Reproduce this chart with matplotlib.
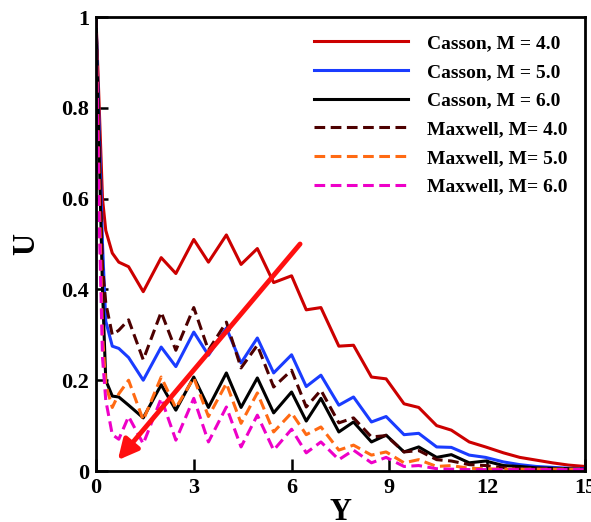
import matplotlib
matplotlib.use('Agg')
import matplotlib.pyplot as plt

# shared Y positions (peaks near integers, valleys near x.45)
y_pos = [0, 0.1, 0.2, 0.3, 0.5, 0.7, 1.0, 1.45, 2.0, 2.45, 3.0, 3.45, 4.0, 4.45,
         4.95, 5.45, 6.0, 6.45, 6.9, 7.45, 7.9, 8.45, 8.9, 9.45, 9.9, 10.45,
         10.9, 11.45, 11.95, 12.5, 13.0, 13.5, 14.0, 14.5, 15.0]

casson_m4 = [1.0, 0.80, 0.60, 0.53, 0.48, 0.46, 0.45, 0.395, 0.47, 0.435, 0.51, 0.46,
             0.52, 0.455, 0.49, 0.415, 0.43, 0.355, 0.36, 0.275, 0.277, 0.207, 0.203,
             0.148, 0.14, 0.10, 0.09, 0.064, 0.053, 0.04, 0.03, 0.024, 0.018, 0.013, 0.01]
casson_m5 = [1.0, 0.75, 0.50, 0.33, 0.275, 0.27, 0.25, 0.20, 0.273, 0.23, 0.306, 0.255,
             0.315, 0.238, 0.293, 0.216, 0.256, 0.186, 0.211, 0.145, 0.163, 0.108, 0.12,
             0.08, 0.083, 0.053, 0.052, 0.035, 0.03, 0.02, 0.014, 0.01, 0.008, 0.006, 0.005]
casson_m6 = [1.0, 0.70, 0.40, 0.20, 0.165, 0.163, 0.145, 0.117, 0.19, 0.134, 0.207, 0.14,
             0.216, 0.14, 0.205, 0.128, 0.174, 0.11, 0.16, 0.086, 0.108, 0.064, 0.079,
             0.042, 0.053, 0.03, 0.036, 0.018, 0.022, 0.012, 0.01, 0.007, 0.006, 0.005, 0.004]
maxwell_m4 = [1.0, 0.70, 0.45, 0.37, 0.30, 0.31, 0.333, 0.245, 0.35, 0.266, 0.36, 0.266,
              0.328, 0.227, 0.277, 0.185, 0.222, 0.141, 0.178, 0.106, 0.117, 0.075, 0.078,
              0.042, 0.045, 0.025, 0.022, 0.014, 0.012, 0.007, 0.005, 0.004, 0.003, 0.003, 0.003]
maxwell_m5 = [1.0, 0.60, 0.30, 0.19, 0.14, 0.17, 0.20, 0.112, 0.207, 0.139, 0.205, 0.12,
              0.193, 0.105, 0.172, 0.086, 0.128, 0.08, 0.097, 0.046, 0.057, 0.035, 0.042,
              0.018, 0.025, 0.01, 0.012, 0.006, 0.005, 0.004, 0.004, 0.004, 0.004, 0.004, 0.004]
maxwell_m6 = [1.0, 0.55, 0.25, 0.156, 0.08, 0.07, 0.12, 0.06, 0.16, 0.068, 0.16, 0.064,
              0.141, 0.053, 0.123, 0.046, 0.092, 0.04, 0.064, 0.025, 0.046, 0.018, 0.03,
              0.01, 0.012, 0.005, 0.004, 0.003, 0.003, 0.003, 0.003, 0.003, 0.003, 0.003, 0.003]

labels = ['Casson, M = 4.0', 'Casson, M = 5.0', 'Casson, M = 6.0',
          'Maxwell, M= 4.0', 'Maxwell, M= 5.0', 'Maxwell, M= 6.0']
colors = ['#cc0000', '#1a3cff', '#000000', '#4d0000', '#ff6a13', '#ee00c8']
series = [casson_m4, casson_m5, casson_m6, maxwell_m4, maxwell_m5, maxwell_m6]

x_ticks = [0, 3, 6, 9, 12, 15]
y_ticks = [0, 0.2, 0.4, 0.6, 0.8, 1.0]
y_tick_labels = ['0', '0.2', '0.4', '0.6', '0.8', '1']

# red arrow (tail -> head), data coords
arrow_tail = (6.26, 0.50)
arrow_head = (0.67, 0.024)

plt.rcParams['font.family'] = 'Liberation Serif'
plt.rcParams['font.weight'] = 'bold'

fig = plt.figure(figsize=(5.91, 5.22), dpi=100)
ax = fig.add_axes([0.1624, 0.0977, 0.8274, 0.8697])

for i, (vals, lab, col) in enumerate(zip(series, labels, colors)):
    if i < 3:
        ax.plot(y_pos, vals, color=col, lw=2.2, label=lab, solid_joinstyle='round')
    else:
        ax.plot(y_pos, vals, color=col, lw=2.2, label=lab, linestyle=(0, (3.5, 1.8)))

ax.annotate('', xy=arrow_head, xytext=arrow_tail,
            arrowprops=dict(arrowstyle='-|>', color='#ff1010', lw=3.5,
                            mutation_scale=30, shrinkA=0, shrinkB=0))

ax.set_xlim(0, 15)
ax.set_ylim(0, 1)
ax.set_xticks(x_ticks)
ax.set_yticks(y_ticks)
ax.set_yticklabels(y_tick_labels)
ax.tick_params(direction='in', length=8.5, width=1.8, labelsize=16, pad=5)
for s in ax.spines.values():
    s.set_linewidth(2.0)

ax.set_xlabel('Y', fontsize=22, fontweight='bold', labelpad=0)
ax.set_ylabel('U', fontsize=22, fontweight='bold', labelpad=14)

ax.legend(loc='upper right', frameon=False, fontsize=14, handlelength=4.8,
          labelspacing=0.57, handletextpad=1.0, borderaxespad=0.5)

fig.savefig('out.png', dpi=100)
